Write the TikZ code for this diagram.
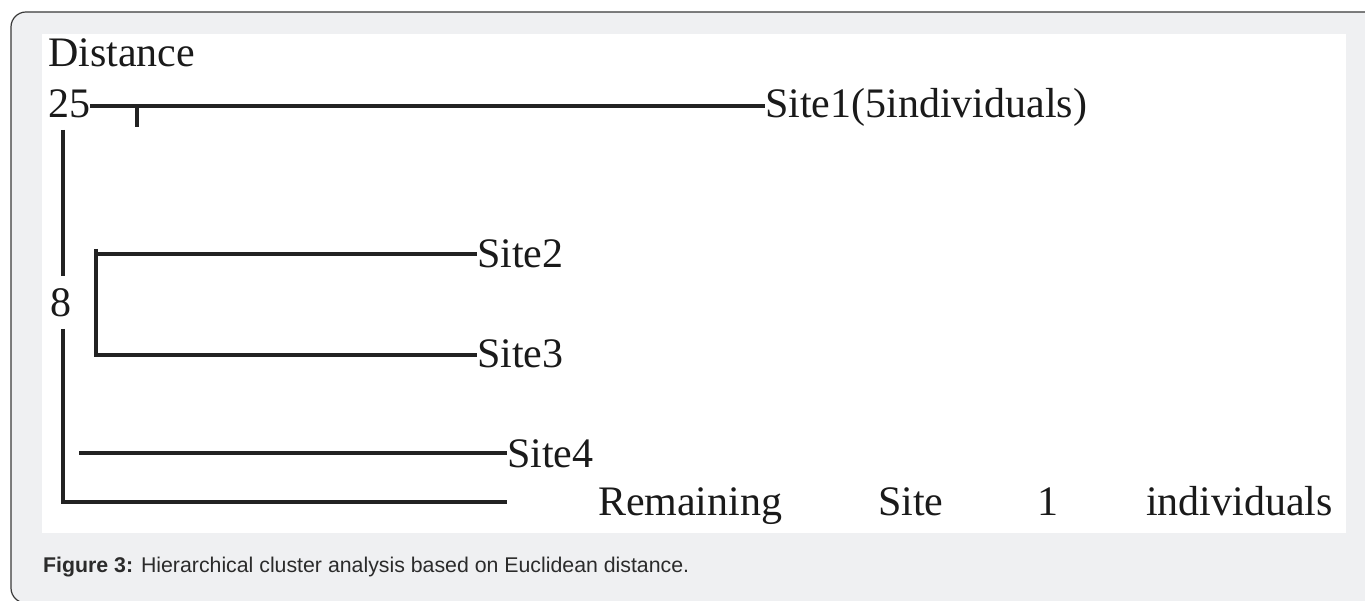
\documentclass[tikz,border=0pt]{standalone}
\usepackage{fontspec}
\setmainfont{Liberation Serif}
\newfontfamily\capfont{Liberation Sans}
\definecolor{panelgray}{HTML}{EFF0F2}
\definecolor{framegray}{HTML}{3A3A3A}
\definecolor{inkdark}{HTML}{1A1A1A}
\definecolor{linedark}{HTML}{222222}
\definecolor{captionink}{HTML}{2B2B2B}
\tikzset{
  label/.style={anchor=base west, inner sep=0pt, outer sep=0pt, text=inkdark,
    font=\fontsize{42}{50}\selectfont},
  branch/.style={draw=linedark, line width=3.2pt, line cap=butt, line join=miter},
  caption/.style={anchor=base west, inner sep=0pt, text=captionink,
    font=\capfont\fontsize{21.3}{25}\selectfont},
}
\begin{document}
\begin{tikzpicture}[x=1pt,y=-1pt]
  \useasboundingbox (0,0) rectangle (1365,601);
  % outer rounded frame and the white plotting panel
  \fill[white] (0,0) rectangle (1365,601);
  \begin{scope}
    \clip (0,0) rectangle (1365,601);
    \draw[framegray, line width=1.2pt, fill=panelgray, rounded corners=15pt]
      (11,12) rectangle (1380,603);
  \end{scope}
  \fill[white] (42,34) rectangle (1346,533);

  % labels
  \node[label] (dist) at (48,67) {Distance};
  \node[label] (n25) at (48,118) {25};
  \node[label] (s1) at (765,118) {Site1(5individuals)};
  \node[label] (n8) at (50,317) {8};
  \node[label] (s2) at (477,268) {Site2};
  \node[label] (s3) at (477,368) {Site3};
  \node[label] (s4) at (507,467) {Site4};
  \node[label] (rem) at (598,515) {Remaining};
  \node[label] (remsite) at (878,515) {Site};
  \node[label] (remone) at (1037,515) {1};
  \node[label] (remind) at (1146,515) {individuals};

  % branch positions
  \coordinate (r1) at (90,106);
  \coordinate (tick) at (137,106);
  \coordinate (ticklow) at (137,127);
  \coordinate (vtop) at (63,130);
  \coordinate (vgapa) at (63,276);
  \coordinate (vgapb) at (63,329);
  \coordinate (vbot) at (63,502);
  \coordinate (bend) at (507,502);
  \coordinate (b23top) at (96,249);
  \coordinate (b23t) at (96,254);
  \coordinate (b23b) at (96,355);
  \coordinate (r4) at (79,453);

  % dendrogram
  \draw[branch] (n25.east |- r1) -- (s1.west |- r1);
  \draw[branch] (tick) -- (ticklow);
  \draw[branch] (vtop) -- (vgapa);
  \draw[branch] (vgapb) -- (vbot) -- (bend);
  \draw[branch] (b23top) -- (b23b) -- (s3.west |- b23b);
  \draw[branch] (b23t) -- (s2.west |- b23t);
  \draw[branch] (r4) -- (s4.west |- r4);

  % caption
  \node[caption] (cap) at (43,572)
    {\textbf{Figure 3:} Hierarchical cluster analysis based on Euclidean distance.};
\end{tikzpicture}
\end{document}
